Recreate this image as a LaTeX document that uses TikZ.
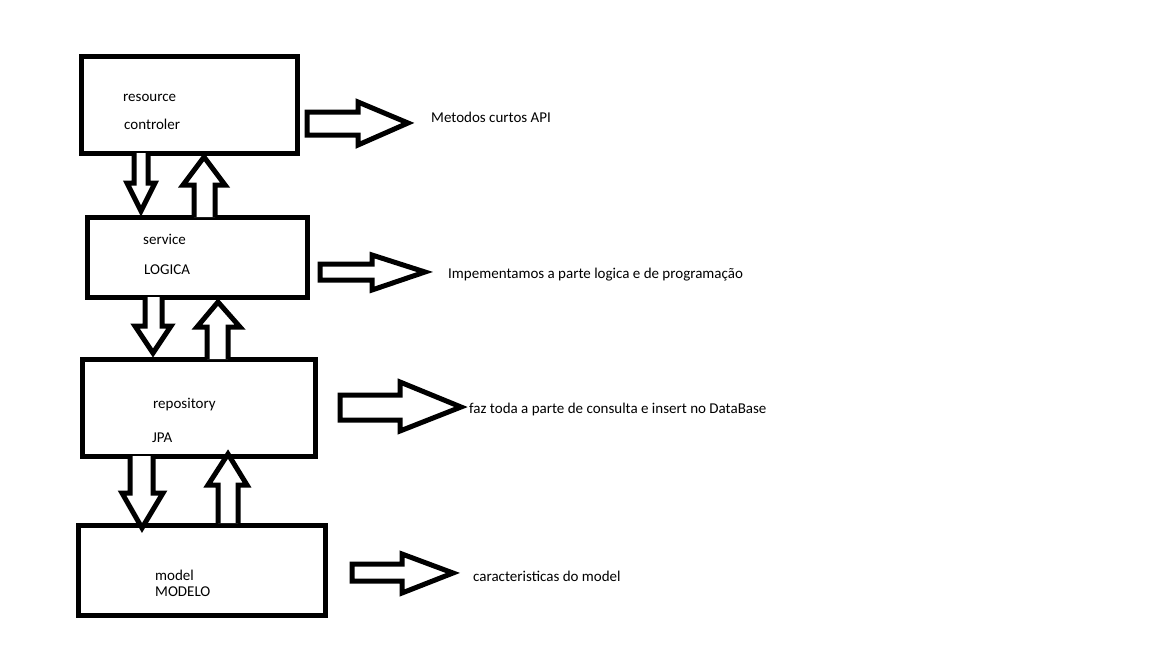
\documentclass[tikz,border=0pt]{standalone}
\usepackage{fontspec}
\setmainfont{Carlito}
\begin{document}
\begin{tikzpicture}[x=1pt,y=-1pt,
  box/.style={draw=black,line width=5pt,inner sep=0pt,outer sep=0pt},
  blk/.style={draw=black,line width=5pt,line join=miter,fill=white},
  lbl/.style={anchor=base west,inner sep=0pt,font=\fontsize{15}{17}\selectfont,text=black}]
\useasboundingbox[fill=white] (0,0) rectangle (1152,648);
% boxes
\node[box,minimum width=216pt,minimum height=97pt] (b1) at (189,104.5) {};
\node[box,minimum width=220pt,minimum height=80pt] (b2) at (197,257) {};
\node[box,minimum width=233pt,minimum height=97pt] (b3) at (198.5,407.5) {};
\node[box,minimum width=247pt,minimum height=90pt] (b4) at (201.5,570) {};
% texts in boxes
\node[lbl] (t1a) at (123,101) {resource};
\node[lbl] (t1b) at (124,129) {controler};
\node[lbl] (t2a) at (143,244) {service};
\node[lbl] (t2b) at (144,274) {LOGICA};
\node[lbl] (t3a) at (153,408) {repository};
\node[lbl] (t3b) at (152,442) {JPA};
\node[lbl] (t4a) at (155,580) {model};
\node[lbl] (t4b) at (155,596) {MODELO};
% side labels
\node[lbl] (d1) at (431,122) {Metodos curtos API};
\node[lbl] (d2) at (448,278) {Impementamos a parte logica e de programação};
\node[lbl] (d3) at (469,413) {faz toda a parte de consulta e insert no DataBase};
\node[lbl] (d4) at (473,581) {caracteristicas do model};
% vertical block arrows
\draw[blk] (134,153) -- (134,183) -- (127,183) -- (141,211) -- (155,183) -- (148,183) -- (148,153);
\draw[blk] (194,217) -- (194,185) -- (183,185) -- (204,157) -- (225,185) -- (215,185) -- (215,217);
\draw[blk] (145,297) -- (145,326) -- (135,326) -- (153,353) -- (171,326) -- (162,326) -- (162,297);
\draw[blk] (207,359) -- (207,327) -- (197,327) -- (218,302) -- (240,327) -- (228,327) -- (228,359);
\draw[blk] (130,456) -- (130,493) -- (122,493) -- (142,528) -- (163,493) -- (153,493) -- (153,456);
\draw[blk] (218,523) -- (218,485) -- (208,485) -- (228,454) -- (247,485) -- (238,485) -- (238,523);
% horizontal block arrows
\draw[blk] (307,112) -- (358,112) -- (358,102) -- (408,123) -- (358,145) -- (358,135) -- (307,135) -- cycle;
\draw[blk] (320,264) -- (372,264) -- (372,255) -- (425,272) -- (372,290) -- (372,280) -- (320,280) -- cycle;
\draw[blk] (340,395) -- (400,395) -- (400,382) -- (461,407) -- (400,431) -- (400,420) -- (340,420) -- cycle;
\draw[blk] (352,564) -- (402,564) -- (402,554) -- (453,573) -- (402,593) -- (402,581) -- (352,581) -- cycle;
\end{tikzpicture}
\end{document}
